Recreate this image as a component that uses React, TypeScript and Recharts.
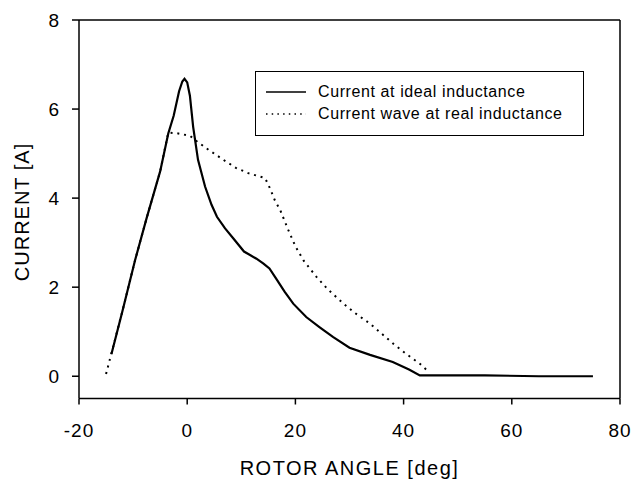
import { Label, Legend, Line, LineChart, ReferenceLine, XAxis, YAxis } from 'recharts'

const idealAngle = [-14, -12, -9.65, -7.5, -5, -3.5, -2.5, -1.5, -0.9, -0.5, 0, 0.5, 1.1, 2, 3.3, 4.5, 5.5, 7, 8.5, 10.5, 12.8, 14.1, 15.2, 16.5, 18, 19.6, 22, 24.5, 27, 30, 33.8, 38, 41, 43, 46, 55, 65, 75]
const idealCurrent = [0.5, 1.45, 2.6, 3.55, 4.6, 5.45, 5.85, 6.4, 6.62, 6.68, 6.6, 6.3, 5.6, 4.86, 4.26, 3.85, 3.58, 3.32, 3.1, 2.8, 2.64, 2.53, 2.42, 2.18, 1.9, 1.63, 1.33, 1.1, 0.88, 0.64, 0.48, 0.32, 0.15, 0.02, 0.02, 0.02, 0, 0]

const realAngle = [-15, -12, -9.65, -7.5, -5, -3.5, -2, 0.5, 1.4, 4, 6.7, 9, 11.3, 14.4, 15.3, 16.2, 17.2, 18.7, 20, 21.5, 23.9, 26, 28.9, 31, 33.8, 36, 38.1, 40.5, 43, 44.8]
const realCurrent = [0.05, 1.45, 2.6, 3.55, 4.6, 5.47, 5.46, 5.4, 5.31, 5.08, 4.86, 4.68, 4.56, 4.45, 4.22, 3.95, 3.73, 3.28, 2.92, 2.6, 2.23, 1.95, 1.63, 1.42, 1.18, 0.95, 0.73, 0.5, 0.28, 0.08]

const xTicks = [-20, 0, 20, 40, 60, 80]
const yTicks = [0, 2, 4, 6, 8]

const seriesNames = ['Current at ideal inductance', 'Current wave at real inductance']

const ideal = idealAngle.map((angle, i) => ({ angle, current: idealCurrent[i] }))
const real = realAngle.map((angle, i) => ({ angle, current: realCurrent[i] }))

const font = '"Liberation Sans", Arial, sans-serif'

function LegendBox() {
  return (
    <div
      style={{
        width: 327,
        height: 63,
        border: '1.5px solid #000',
        background: '#fff',
        fontFamily: font,
        fontSize: 16,
        letterSpacing: 0.6,
        color: '#000',
        position: 'relative',
      }}
    >
      {seriesNames.map((name, i) => (
        <div key={name} style={{ position: 'absolute', left: 10, top: 10 + i * 21.5, height: 20, display: 'flex', alignItems: 'center', whiteSpace: 'nowrap' }}>
          <svg width={42} height={6} style={{ marginRight: 10 }}>
            <line x1={0} x2={40} y1={3} y2={3} stroke="#000" strokeWidth={1.5} strokeDasharray={i === 0 ? undefined : '1.5 4.2'} />
          </svg>
          <span>{name}</span>
        </div>
      ))}
    </div>
  )
}

export default function App() {
  return (
    <div style={{ position: 'absolute', left: 0, top: 0, width: 633, height: 481, background: '#fff' }}>
      <LineChart width={633} height={481} margin={{ top: 20, right: 13, bottom: 0, left: 9 }}>
        <XAxis
          type="number"
          dataKey="angle"
          domain={[-20, 80]}
          ticks={xTicks}
          height={82.5}
          tickSize={6}
          tickMargin={19}
          stroke="#000"
          strokeWidth={1.5}
          tick={{ fill: '#000', fontSize: 19, fontFamily: font, letterSpacing: 1 }}
          allowDataOverflow
        >
          <Label value="ROTOR ANGLE [deg]" position="insideBottom" offset={6} style={{ fill: '#000', fontSize: 20, fontFamily: font, letterSpacing: 1.5 }} />
        </XAxis>
        <YAxis
          type="number"
          dataKey="current"
          domain={[-0.5, 8]}
          ticks={yTicks}
          width={70}
          tickSize={7}
          tickMargin={13}
          stroke="#000"
          strokeWidth={1.5}
          tick={{ fill: '#000', fontSize: 19, fontFamily: font }}
          allowDataOverflow
          label={{
            content: () => (
              <text x={22} y={212} transform="rotate(-90 22 212)" textAnchor="middle" dominantBaseline="central" style={{ fill: '#000', fontSize: 20, fontFamily: font, letterSpacing: 1 }}>
                CURRENT [A]
              </text>
            ),
          }}
        />
        <ReferenceLine y={8} stroke="#000" strokeWidth={1.5} ifOverflow="visible" />
        <ReferenceLine x={80} stroke="#000" strokeWidth={1.5} ifOverflow="visible" />
        <Line data={real} dataKey="current" name={seriesNames[1]} type="linear" stroke="#000" strokeWidth={2} strokeDasharray="2 4.8" dot={false} isAnimationActive={false} />
        <Line data={ideal} dataKey="current" name={seriesNames[0]} type="linear" stroke="#000" strokeWidth={2.2} dot={false} isAnimationActive={false} />
        <Legend verticalAlign="middle" content={() => <LegendBox />} wrapperStyle={{ left: 255, top: 71, width: 330, height: 66 }} />
      </LineChart>
    </div>
  )
}
